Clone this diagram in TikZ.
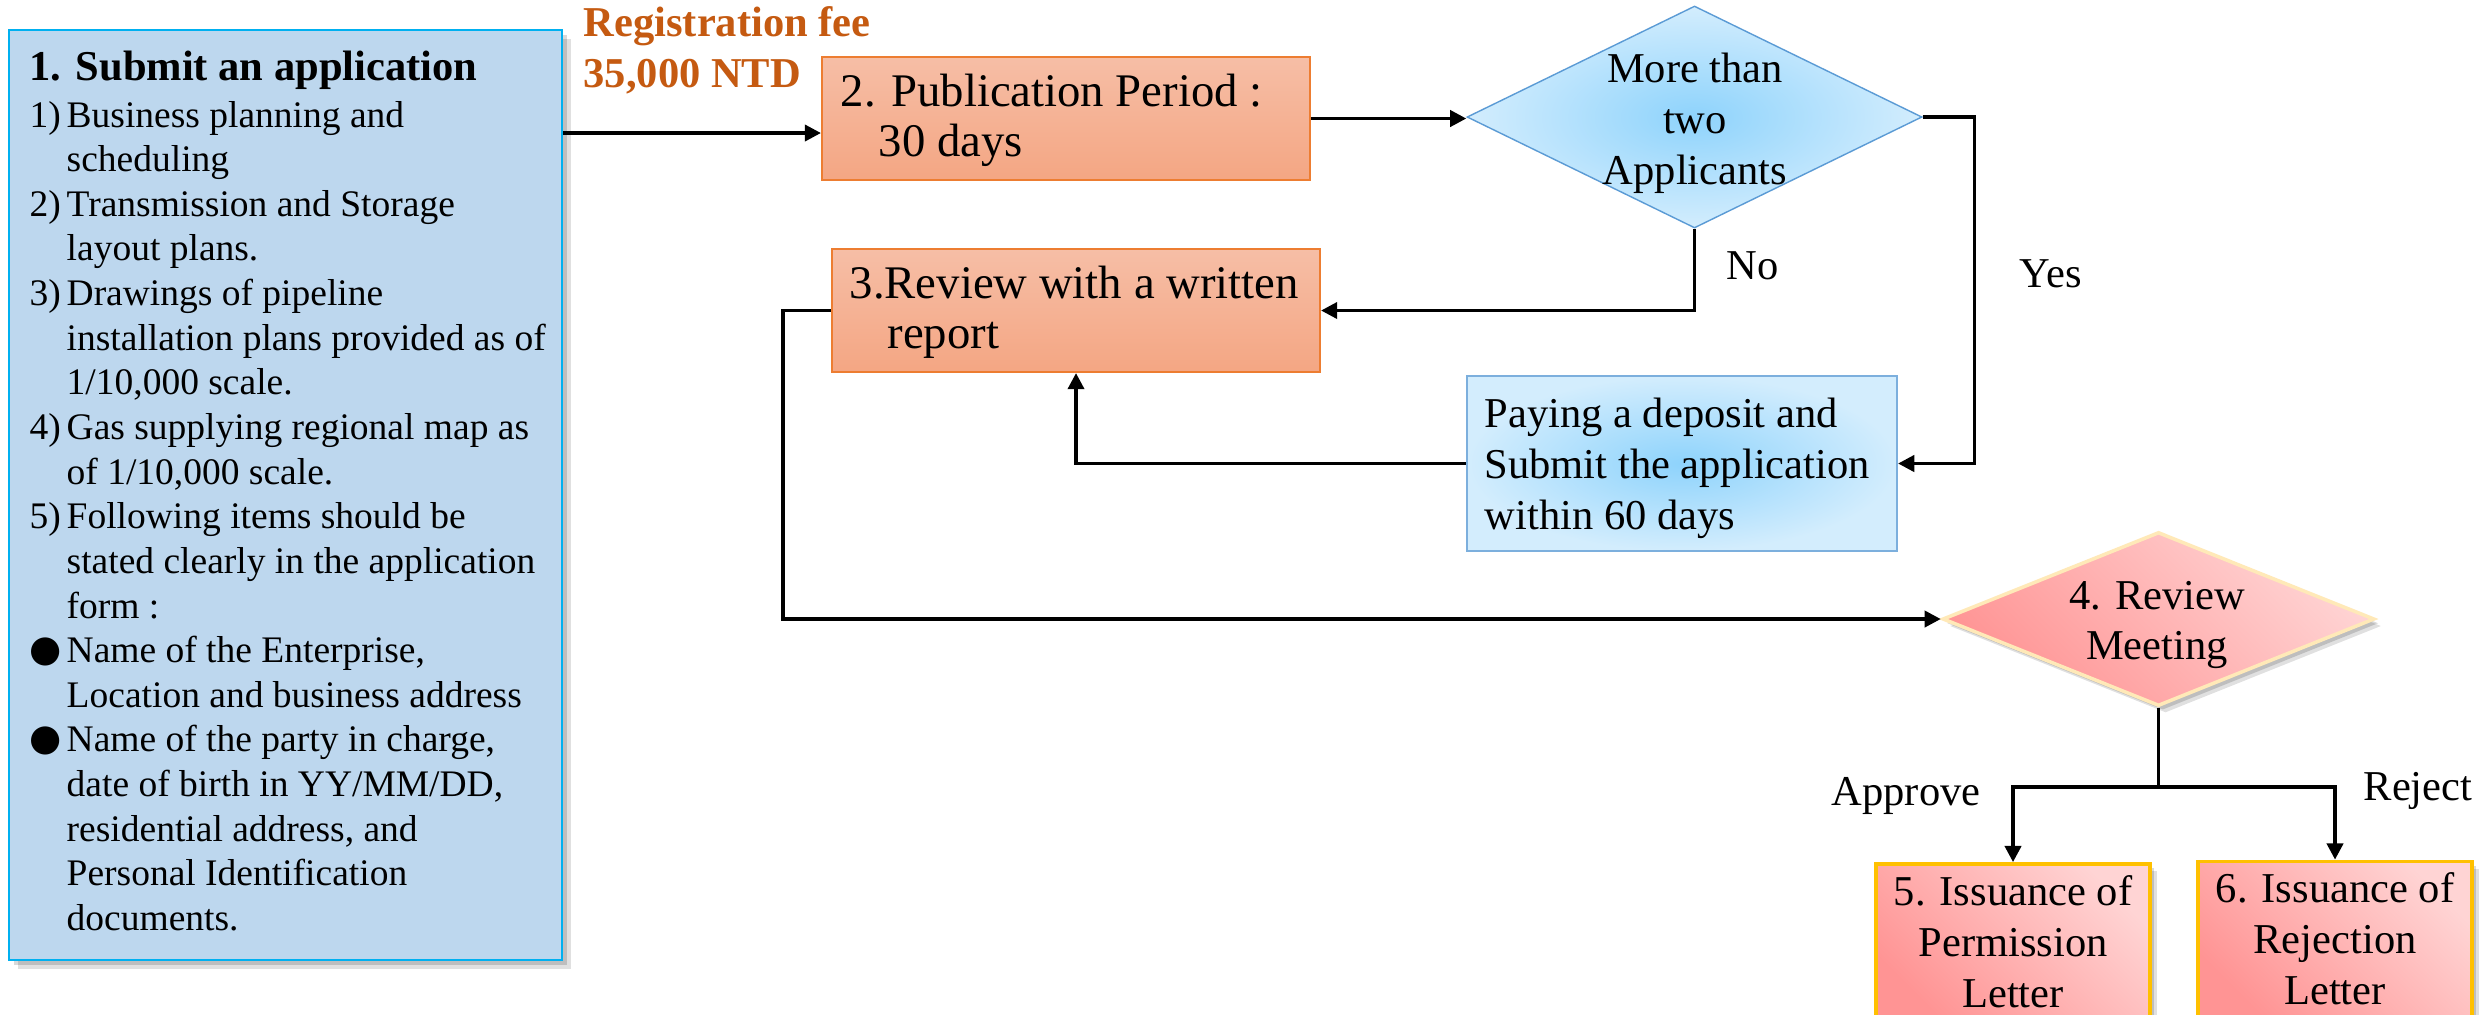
\documentclass[tikz,border=0pt]{standalone}
\usepackage{fontspec}
\setmainfont{Liberation Serif}
\newfontfamily\symfont{DejaVu Sans}
\usetikzlibrary{arrows.meta,shapes.geometric,shadows}

\definecolor{boxblue}{HTML}{BDD7EE}
\definecolor{cyanline}{HTML}{00B0F0}
\definecolor{feeorange}{HTML}{C55A11}
\definecolor{salmontop}{HTML}{F6BEA6}
\definecolor{salmonbot}{HTML}{F4A683}
\definecolor{orangeline}{HTML}{ED7D31}
\definecolor{skyin}{HTML}{8ED3FC}
\definecolor{skyout}{HTML}{D3EDFD}
\definecolor{blueline}{HTML}{5B9BD5}
\definecolor{pinkdark}{HTML}{FF9494}
\definecolor{pinklight}{HTML}{FFD4D4}
\definecolor{goldline}{HTML}{FFC000}
\definecolor{creamline}{HTML}{FFE9B8}

\newcommand{\fA}{\fontsize{10.67}{12.7}\selectfont}
\newcommand{\fT}{\fontsize{12.1}{14.5}\selectfont\bfseries}
\newcommand{\fB}{\fontsize{13.3}{14.2}\selectfont}
\newcommand{\fC}{\fontsize{12.1}{14.5}\selectfont}
\newcommand{\blt}{\makebox[3.7mm][l]{\raisebox{0.1mm}{\symfont\fontsize{10.5}{12}\selectfont ●}}}
\newcommand{\num}[1]{\makebox[3.7mm][l]{#1}}
\newcommand{\ind}{\hspace*{3.7mm}}

\begin{document}
\begin{tikzpicture}[x=0.1mm, y=-0.1mm,
  arr/.style={draw=black, line width=1pt, -{Triangle[length=4.6pt,width=4.6pt]}},
  ln/.style={draw=black, line width=1pt},
  txt/.style={inner sep=0pt},
  softshadow/.style={drop shadow={shadow xshift=#1, shadow yshift=-#1, fill=black, opacity=0.12},
    drop shadow={shadow xshift=0.6*#1, shadow yshift=-0.6*#1, fill=black, opacity=0.15}},
  appbox/.style={rectangle, draw=cyanline, line width=0.8pt, fill=boxblue,
    minimum width=55.3mm, minimum height=93mm, inner sep=0pt, softshadow=0.9mm},
  obox/.style={rectangle, draw=orangeline, line width=0.6pt,
    top color=salmontop, bottom color=salmonbot,
    minimum width=48.8mm, minimum height=12.3mm, inner sep=0pt},
  bluedia/.style={diamond, draw=blueline, line width=0.4pt,
    inner color=skyin, outer color=skyout,
    minimum width=45.5mm, minimum height=22.2mm, inner sep=0pt},
  paybox/.style={rectangle, draw=blueline!80, line width=0.6pt,
    inner color=skyin, outer color=skyout,
    minimum width=43mm, minimum height=17.5mm, inner sep=0pt},
  pinkdia/.style={diamond, draw=creamline, line width=1pt,
    top color=pinklight, bottom color=pinkdark, shading angle=-45,
    minimum width=43.2mm, minimum height=17.4mm, inner sep=0pt, softshadow=0.7mm},
  pinkbox/.style={rectangle, draw=goldline, line width=1.1pt,
    top color=pinklight, bottom color=pinkdark, shading angle=-45,
    minimum width=27.4mm, minimum height=15.5mm, inner sep=0pt,
    font=\fC, align=center, softshadow=0.7mm}
]
\useasboundingbox (0,0) rectangle (2481,1014);
\clip (0,0) rectangle (2481,1014);
\fill[white] (0,0) rectangle (2481,1014);

% Box 1
\node[appbox] (box1) at (285.5,495) {};
\node[txt, anchor=base west, font=\fT] (title) at (29,80) {1. Submit an application};
\node[txt, anchor=base west, font=\fA] (list) at (29,127) {%
\begin{tabular}[t]{@{}l@{}}
\num{1)}Business planning and\\
\ind scheduling\\
\num{2)}Transmission and Storage\\
\ind layout plans.\\
\num{3)}Drawings of pipeline\\
\ind installation plans provided as of\\
\ind 1/10,000 scale.\\
\num{4)}Gas supplying regional map as\\
\ind of 1/10,000 scale.\\
\num{5)}Following items should be\\
\ind stated clearly in the application\\
\ind form :\\
\blt Name of the Enterprise,\\
\ind Location and business address\\
\blt Name of the party in charge,\\
\ind date of birth in YY/MM/DD,\\
\ind residential address, and\\
\ind Personal Identification\\
\ind documents.
\end{tabular}};

% Registration fee
\node[txt, anchor=base west, font=\fT, text=feeorange] (fee1) at (583,36) {Registration fee};
\node[txt, anchor=base west, font=\fT, text=feeorange] (fee2) at (583,87) {35,000 NTD};

% Box 2
\node[obox] (box2) at (1066,118.5) {};
\node[txt, anchor=west, font=\fB, align=left] (box2t) at ([xshift=1.9mm,yshift=-0.2mm]box2.west)
  {2. Publication Period :\\\hspace*{3.8mm}30 days};

% Box 3
\node[obox] (box3) at (1076,310.5) {};
\node[txt, anchor=west, font=\fB, align=left] (box3t) at ([xshift=1.8mm,yshift=-0.15mm]box3.west)
  {3.Review with a written\\\hspace*{3.8mm}report};

% Diamond 1
\node[bluedia] (d1) at (1694.5,117) {};
\node[txt, font=\fC, align=center] (d1t) at (1695,123) {More than\\two\\Applicants};

% Paying box
\node[paybox] (pay) at (1682,463.5) {};
\node[txt, anchor=west, font=\fC, align=left] (payt) at ([xshift=1.8mm,yshift=-0.5mm]pay.west)
  {Paying a deposit and\\Submit the application\\within 60 days};

% Diamond 4
\node[pinkdia] (d4) at (2158.5,619) {};
\node[txt, font=\fC, align=center] (d4t) at (2157,625) {4. Review\\Meeting};

% Boxes 5 and 6
\node[pinkbox] (box5) at (2013,941.5) {5. Issuance of\\Permission\\Letter};
\node[pinkbox] (box6) at (2335,939) {6. Issuance of\\Rejection\\Letter};

% Connectors
\coordinate (p12) at ([yshift=-1.45mm]box2.west);
\draw[arr] (box1.east |- p12) -- (p12);
\draw[arr] (box2.east) -- (box2.east -| d1.west);
\draw[arr] (d1.south) |- (box3.east);
\draw[arr] (d1.east) -- ++(52,0) |- (pay.east);
\draw[arr] (pay.west) -| (box3.south);
\draw[arr] (box3.west) -- ++(-48,0) |- (d4.west);
\draw[ln] (d4.south) -- ++(0,79) coordinate (split);
\draw[arr] (split) -| (box5.north);
\draw[arr] (split) -| (box6.north);

% Labels
\node[txt, anchor=base west, font=\fC] (lno) at (1726,279) {No};
\node[txt, anchor=base west, font=\fC] (lyes) at (2019,287) {Yes};
\node[txt, anchor=base west, font=\fC] (lapp) at (1831,805) {Approve};
\node[txt, anchor=base west, font=\fC] (lrej) at (2363,800) {Reject};
\end{tikzpicture}
\end{document}
